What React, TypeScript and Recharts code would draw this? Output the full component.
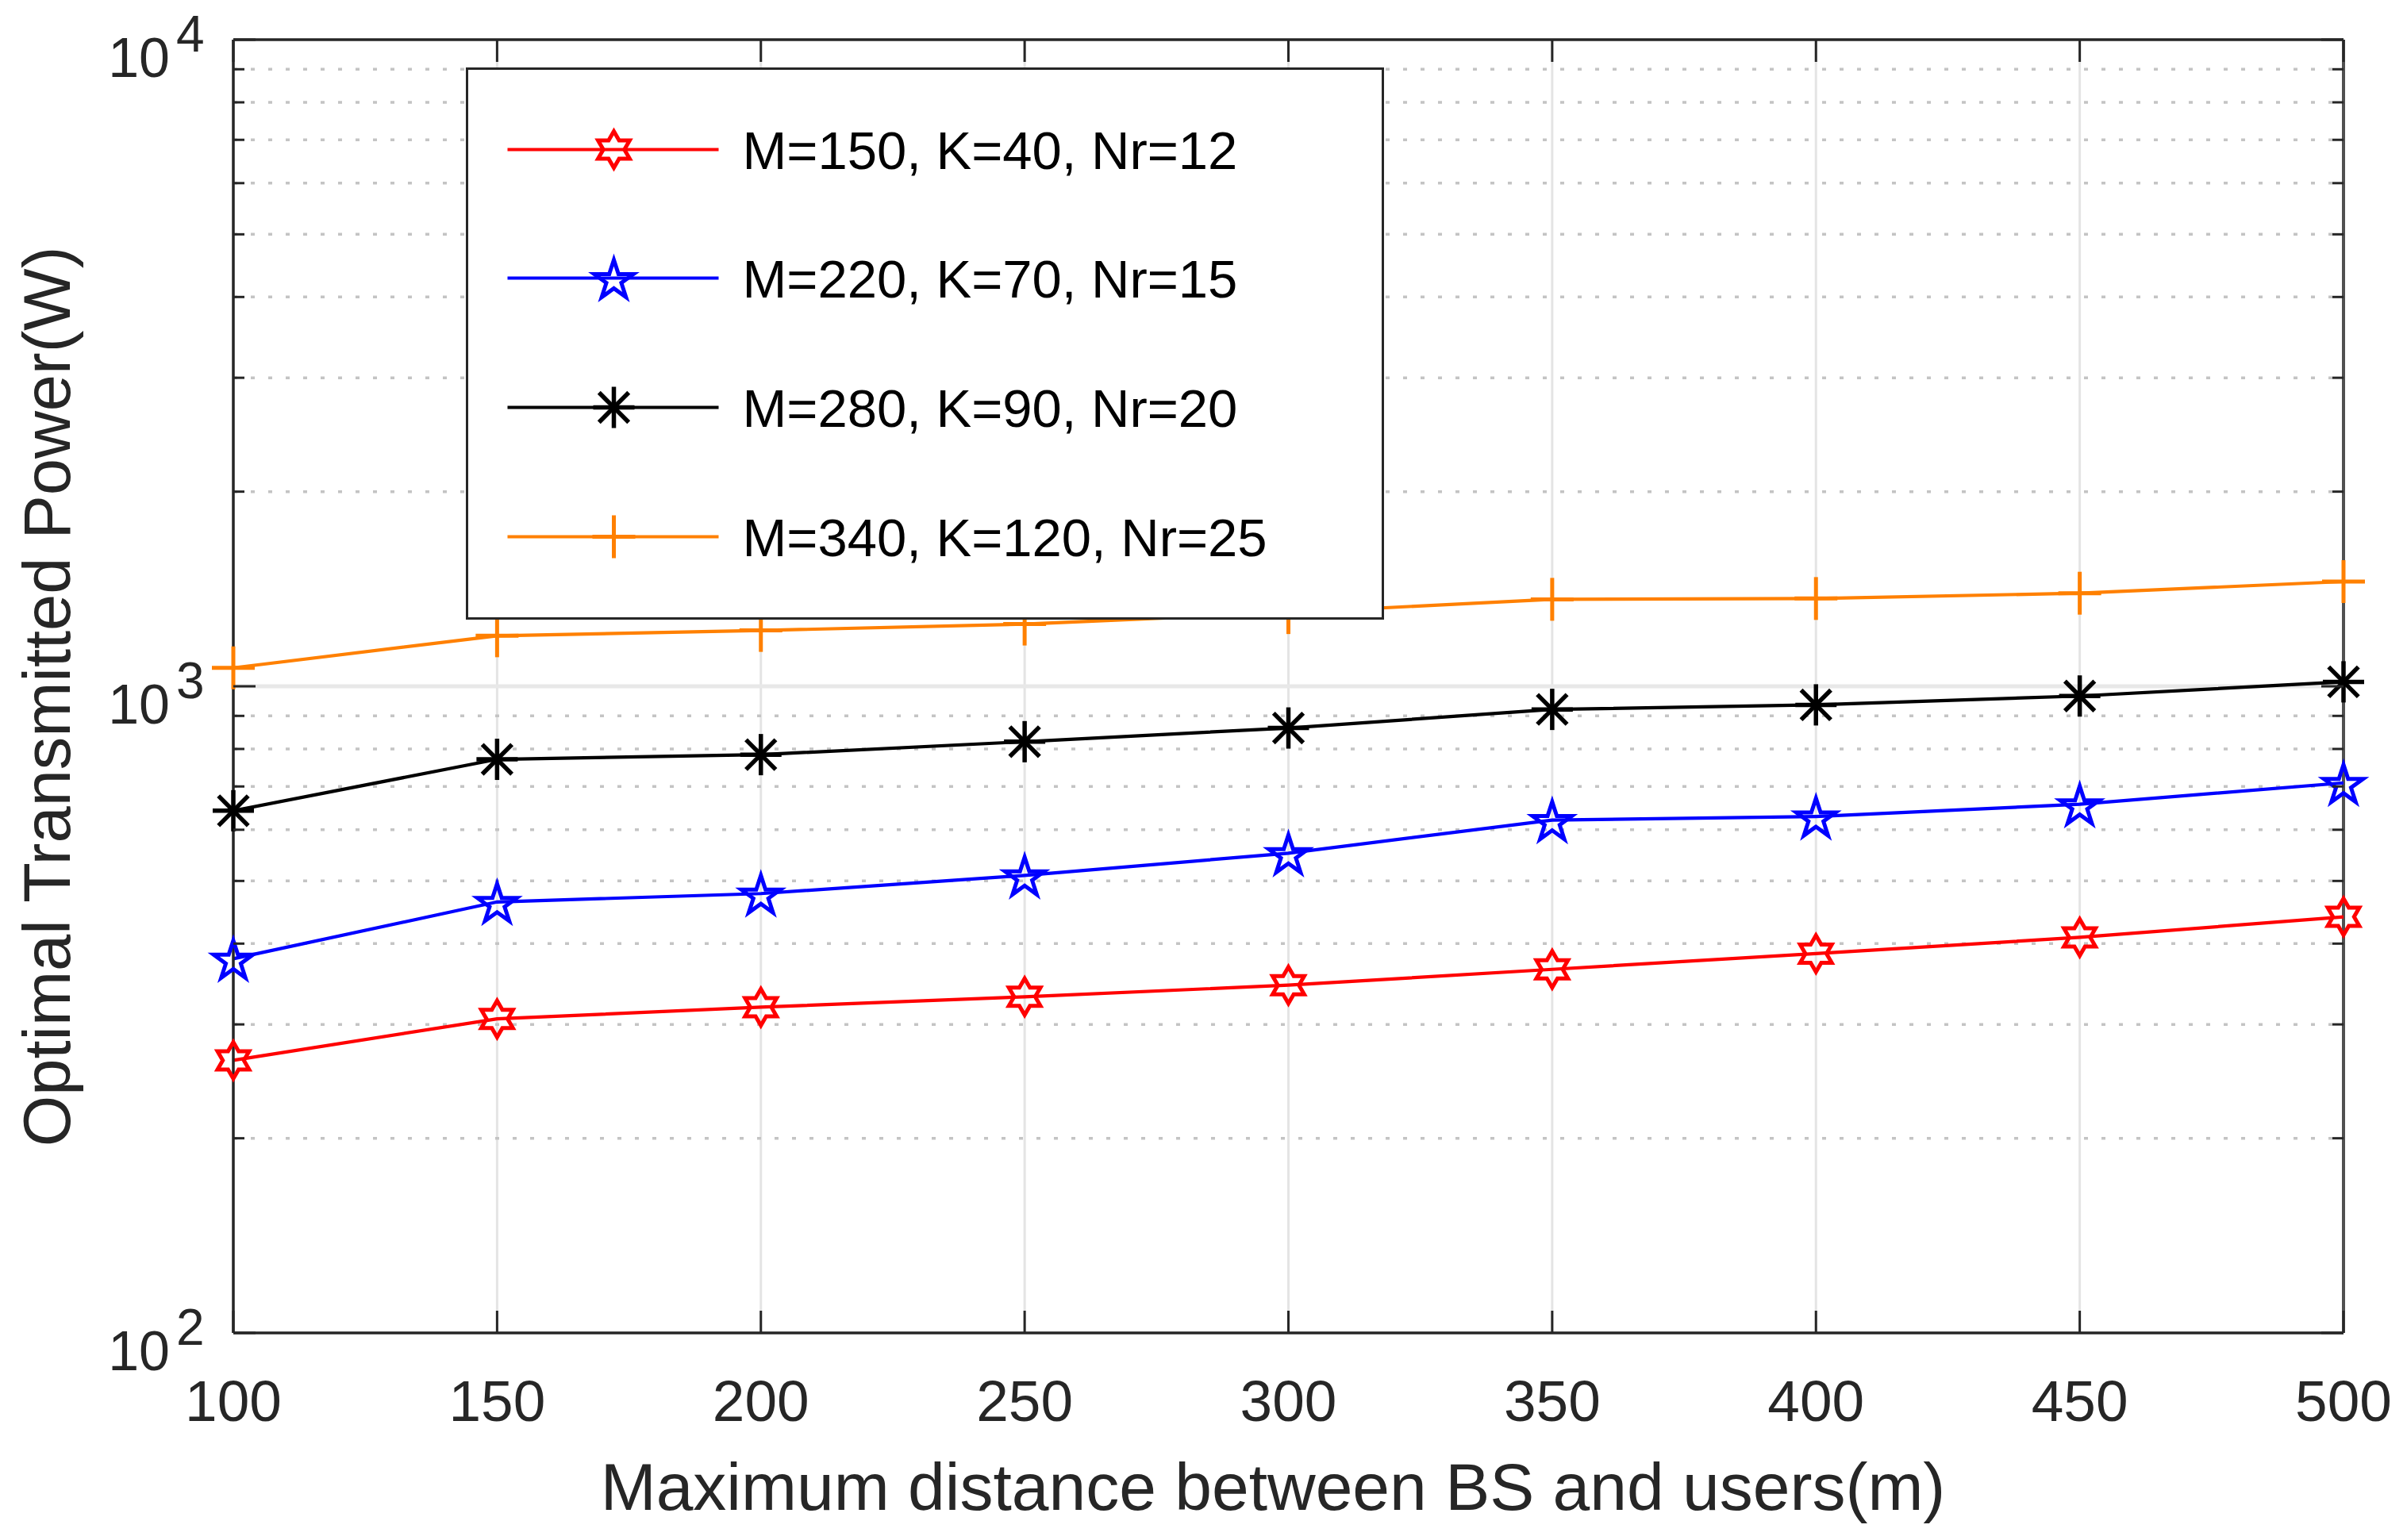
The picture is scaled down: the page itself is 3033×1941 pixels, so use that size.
import React from 'react';
import { LineChart, Line, XAxis, YAxis, CartesianGrid, ReferenceLine, Legend } from 'recharts';

// ---------- data ----------
const distances = [100, 150, 200, 250, 300, 350, 400, 450, 500];
const powerM150 = [264, 306, 319, 331, 345, 365, 386, 409, 440];
const powerM220 = [379, 464, 478, 510, 552, 621, 629, 657, 709];
const powerM280 = [642, 771, 784, 821, 862, 921, 936, 966, 1016];
const powerM340 = [1068, 1197, 1220, 1248, 1300, 1363, 1367, 1393, 1452];

const xTicks = [100, 150, 200, 250, 300, 350, 400, 450, 500];
const yMajorTicks = [100, 1000, 10000];
const yMinorTicks = [200, 300, 400, 500, 600, 700, 800, 900, 2000, 3000, 4000, 5000, 6000, 7000, 8000, 9000];

const seriesKeys = ['s0', 's1', 's2', 's3'];
const seriesNames = ['M=150, K=40, Nr=12', 'M=220, K=70, Nr=15', 'M=280, K=90, Nr=20', 'M=340, K=120, Nr=25'];
const seriesColors = ['#ff0000', '#0000ff', '#000000', '#ff8000'];
const seriesMarkers = ['hexagram', 'pentagram', 'asterisk', 'plus'];
const seriesValues = [powerM150, powerM220, powerM280, powerM340];

const xLabel = 'Maximum distance between BS and users(m)';
const yLabel = 'Optimal Transmitted Power(W)';

const data = distances.map((d, i) => {
  const row: Record<string, number> = { x: d };
  seriesKeys.forEach((k, j) => { row[k] = seriesValues[j][i]; });
  return row;
});

// ---------- layout constants ----------
const W = 3033;
const H = 1941;
const PL = 294;
const PR = 2953;
const PT = 50;
const PB = 1680;
const FONT = '"Liberation Sans", Arial, Helvetica, sans-serif';
const AX = '#262626';
const LINE_W = 4.2;

function Marker({ type, cx, cy, color }: { type: string; cx: number; cy: number; color: string }) {
  if (cx == null || cy == null || isNaN(cx) || isNaN(cy)) return null;
  const sw = 5;
  if (type === 'hexagram') {
    const R = 23, r = R / Math.sqrt(3);
    const pts: string[] = [];
    for (let k = 0; k < 12; k++) {
      const a = (-90 + k * 30) * Math.PI / 180;
      const rad = k % 2 === 0 ? R : r;
      pts.push(`${cx + rad * Math.cos(a)},${cy + rad * Math.sin(a)}`);
    }
    return <polygon points={pts.join(' ')} fill="none" stroke={color} strokeWidth={sw} strokeLinejoin="miter" />;
  }
  if (type === 'pentagram') {
    const R = 26, r = R * 0.382;
    const pts: string[] = [];
    for (let k = 0; k < 10; k++) {
      const a = (-90 + k * 36) * Math.PI / 180;
      const rad = k % 2 === 0 ? R : r;
      pts.push(`${cx + rad * Math.cos(a)},${cy + rad * Math.sin(a) + 3}`);
    }
    return <polygon points={pts.join(' ')} fill="none" stroke={color} strokeWidth={sw} strokeLinejoin="miter" />;
  }
  if (type === 'asterisk') {
    const R = 26, d = R * 0.72;
    return (
      <g stroke={color} strokeWidth={sw + 0.5}>
        <line x1={cx - R} y1={cy} x2={cx + R} y2={cy} />
        <line x1={cx} y1={cy - R} x2={cx} y2={cy + R} />
        <line x1={cx - d} y1={cy - d} x2={cx + d} y2={cy + d} />
        <line x1={cx - d} y1={cy + d} x2={cx + d} y2={cy - d} />
      </g>
    );
  }
  const R = 27;
  return (
    <g stroke={color} strokeWidth={sw}>
      <line x1={cx - R} y1={cy} x2={cx + R} y2={cy} />
      <line x1={cx} y1={cy - R} x2={cx} y2={cy + R} />
    </g>
  );
}

const XTick = (props: any) => {
  const { x, payload } = props;
  return (
    <g>
      <line x1={x} x2={x} y1={PB} y2={PB - 28} stroke={AX} strokeWidth={3} />
      <line x1={x} x2={x} y1={PT} y2={PT + 28} stroke={AX} strokeWidth={3} />
      <text x={x} y={1791} textAnchor="middle" fontSize={73} fontFamily={FONT} fill={AX}>{payload.value}</text>
    </g>
  );
};

const YTick = (props: any) => {
  const { y, payload } = props;
  const v = payload.value;
  const major = yMajorTicks.includes(v);
  const len = major ? 28 : 14;
  return (
    <g>
      <line x1={PL} x2={PL + len} y1={y} y2={y} stroke={AX} strokeWidth={3} />
      <line x1={PR} x2={PR - len} y1={y} y2={y} stroke={AX} strokeWidth={3} />
      {major && (
        <text x={214} y={y + 47} textAnchor="end" fontSize={70} fontFamily={FONT} fill={AX}>10</text>
      )}
      {major && (
        <text x={222} y={y + 15} textAnchor="start" fontSize={64} fontFamily={FONT} fill={AX}>{Math.round(Math.log10(v))}</text>
      )}
    </g>
  );
};

const XLabelEl = () => (
  <text x={1604} y={1903} textAnchor="middle" fontSize={84} fontFamily={FONT} fill={AX}>{xLabel}</text>
);

const YLabelEl = () => (
  <text x={88} y={878} transform="rotate(-90, 88, 878)" textAnchor="middle" fontSize={83} fontFamily={FONT} fill={AX}>{yLabel}</text>
);

const LEG_W = 1157;
const LEG_H = 696;
const LEG_B = 3.5;
const rowY = [104, 266, 429, 592];

const LegendBox = (props: any) => {
  const payload = (props && props.payload) || [];
  const items = seriesKeys.map((k, i) => {
    const p = payload.find((e: any) => e.dataKey === k);
    return { name: p ? p.value : seriesNames[i], color: p ? p.color : seriesColors[i], marker: seriesMarkers[i] };
  });
  return (
    <div style={{ width: LEG_W, height: LEG_H, boxSizing: 'border-box', border: `${LEG_B}px solid ${AX}`, background: '#ffffff' }}>
      <svg width={LEG_W - 2 * LEG_B} height={LEG_H - 2 * LEG_B} style={{ display: 'block' }}>
        {items.map((it, i) => {
          const cy = rowY[i] - LEG_B;
          return (
            <g key={i}>
              <line x1={53 - LEG_B} x2={319 - LEG_B} y1={cy} y2={cy} stroke={it.color} strokeWidth={LINE_W} />
              <Marker type={it.marker} cx={187 - LEG_B} cy={cy} color={it.color} />
              <text x={349 - LEG_B} y={cy + 24} fontSize={67} fontFamily={FONT} fill="#000000">{it.name}</text>
            </g>
          );
        })}
      </svg>
    </div>
  );
};

export default function App() {
  return (
    <div style={{ position: 'absolute', left: 0, top: 0, width: W, height: H, background: '#ffffff' }}>
      <LineChart width={W} height={H} data={data} margin={{ top: PT, right: W - PR, bottom: 0, left: 0 }}>
        <CartesianGrid horizontal={false} vertical={true} stroke="#e4e4e4" strokeWidth={3} />
        {yMinorTicks.map((v) => (
          <ReferenceLine key={`mg${v}`} y={v} stroke="#c4c4c4" strokeWidth={3.5} strokeDasharray="5 17" />
        ))}
        <ReferenceLine y={1000} stroke="#e8e8e8" strokeWidth={5} />
        <ReferenceLine y={10000} stroke={AX} strokeWidth={3.5} />
        <ReferenceLine x={500} stroke="#505050" strokeWidth={4} />
        <XAxis
          dataKey="x"
          type="number"
          domain={[100, 500]}
          ticks={xTicks}
          interval={0}
          height={H - PB}
          tickLine={false}
          tickSize={0}
          tickMargin={0}
          axisLine={{ stroke: AX, strokeWidth: 3.5 }}
          tick={<XTick />}
          label={<XLabelEl />}
        />
        <YAxis
          type="number"
          scale="log"
          domain={[100, 10000]}
          allowDataOverflow
          ticks={[...yMajorTicks, ...yMinorTicks].sort((a, b) => a - b)}
          interval={0}
          width={PL}
          tickLine={false}
          tickSize={0}
          tickMargin={0}
          axisLine={{ stroke: AX, strokeWidth: 3.5 }}
          tick={<YTick />}
          label={<YLabelEl />}
        />
        {seriesKeys.map((k, i) => (
          <Line
            key={k}
            dataKey={k}
            name={seriesNames[i]}
            stroke={seriesColors[i]}
            strokeWidth={LINE_W}
            isAnimationActive={false}
            dot={(p: any) => (
              <Marker key={`${k}-${p.index}`} type={seriesMarkers[i]} cx={p.cx} cy={p.cy} color={seriesColors[i]} />
            )}
            activeDot={false}
          />
        ))}
        <Legend
          layout="vertical"
          align="center"
          verticalAlign="middle"
          wrapperStyle={{ position: 'absolute', left: 587, top: 85, width: LEG_W, height: LEG_H }}
          content={<LegendBox />}
        />
      </LineChart>
    </div>
  );
}
